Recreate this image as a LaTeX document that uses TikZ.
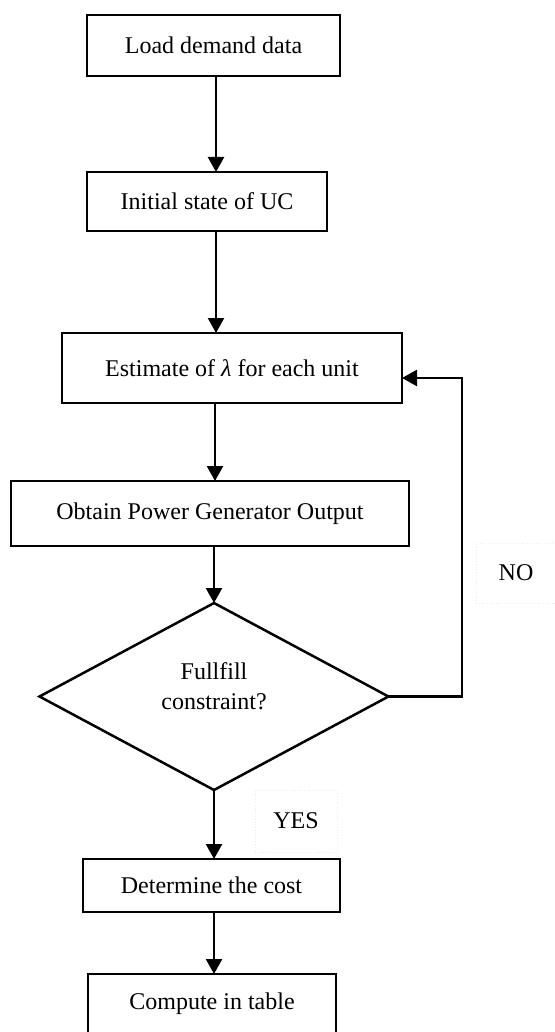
\documentclass[tikz,border=0pt]{standalone}
\usepackage{fontspec}
\setmainfont{Liberation Serif}
\usetikzlibrary{arrows.meta,shapes.geometric}
\begin{document}
\begin{tikzpicture}[x=0.5pt,y=-0.5pt,
  box/.style={draw,line width=1.25pt,inner sep=0pt,outer sep=0pt,align=center,font=\fontsize{12}{14}\selectfont},
  decision/.style={diamond,draw,line width=1.25pt,inner sep=0pt,outer sep=0pt,align=center,font=\fontsize{12}{15}\selectfont},
  flow/.style={line width=1.2pt,-{Triangle[length=7.5pt,width=8pt]}},
  lbl/.style={draw=black!7,densely dotted,inner sep=0pt,outer sep=0pt,font=\fontsize{12}{14}\selectfont}]
\useasboundingbox (0,0) rectangle (555,1032);
\fill[white] (0,0) rectangle (555,1032);
% boxes
\node[box,minimum width=126.5pt,minimum height=30.5pt] (b1) at (213.5,45.5) {Load demand data};
\node[box,minimum width=120pt,minimum height=29.5pt] (b2) at (207,201.5) {Initial state of UC};
\node[box,minimum width=170pt,minimum height=35pt] (b3) at (232,368) {Estimate of {\itshape λ} for each unit};
\node[box,minimum width=199pt,minimum height=32.5pt] (b4) at (210,513.5) {Obtain Power Generator Output};
\node[decision,minimum width=174.5pt,minimum height=93.5pt] (d) at (214,696.5) {};
\node[font=\fontsize{12}{15}\selectfont,align=center,inner sep=0pt] (dt) at (214,686) {Fullfill\\constraint?};
\node[box,minimum width=128.5pt,minimum height=26.5pt] (b5) at (211.5,885.5) {Determine the cost};
\node[box,minimum width=124pt,minimum height=30pt] (b6) at (212,1004) {Compute in table};
% labels
\node[lbl,minimum width=40pt,minimum height=30pt] (no) at (516,573) {NO};
\node[lbl,minimum width=41pt,minimum height=31pt] (yes) at (296,821) {YES};
% axes for arrows
\coordinate (a1) at (216,0);
\coordinate (a3) at (215,0);
\coordinate (fb) at (462,0);
% connectors
\draw[flow] (b1.south -| a1) -- (b2.north -| a1);
\draw[flow] (b2.south -| a1) -- (b3.north -| a1);
\draw[flow] (b3.south -| a3) -- (b4.north -| a3);
\draw[flow] (b4.south -| d.north) -- (d.north);
\draw[flow] (d.south) -- (b5.north -| d.south);
\draw[flow] (b5.south -| d.south) -- (b6.north -| d.south);
\draw[flow] (d.east) -- (d.east -| fb) |- ([yshift=-5pt]b3.east);
\end{tikzpicture}
\end{document}
